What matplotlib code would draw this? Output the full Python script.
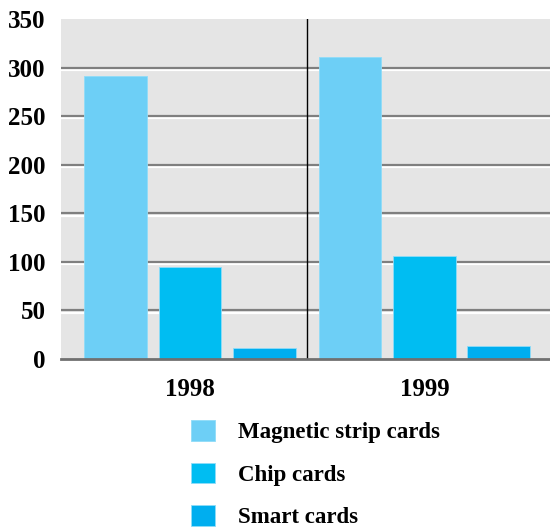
import matplotlib
matplotlib.use("Agg")
import matplotlib.pyplot as plt
import matplotlib.patheffects as pe
from matplotlib.patches import Patch

years = ['1998', '1999']
series = ['Magnetic strip cards', 'Chip cards', 'Smart cards']
magnetic = [291, 311]
chip = [95, 106]
smart = [11, 13]
colors = ['#6dcff6', '#00bdf2', '#00aeef']

plt.rcParams['font.family'] = ['Liberation Serif', 'DejaVu Serif']
plt.rcParams['font.weight'] = 'bold'

fig = plt.figure(figsize=(5.5, 5.31), dpi=100)
ax = fig.add_axes([0.111, 0.324, 0.895, 0.64])
ax.set_facecolor('#e5e5e5')

x = range(len(years))
w = 0.268
off = 0.317
for vals, dx, c in zip([magnetic, chip, smart], [-off, 0, off], colors):
    ax.bar([i + dx for i in x], vals, width=w, color=c, edgecolor='#8fdcf8',
           linewidth=0.6, zorder=3)

for v in [50, 100, 150, 200, 250, 300]:
    ax.axhline(v, color='#7f7f7f', lw=1.6, zorder=2,
               path_effects=[pe.SimpleLineShadow(offset=(0, -1.6), shadow_color='white', alpha=1),
                             pe.Normal()])
ax.axvline(0.5, color='black', lw=1, zorder=4)

ax.set_xlim(-0.55, 1.55)
ax.set_ylim(0, 350)
ax.set_yticks([0, 50, 100, 150, 200, 250, 300, 350])
ax.set_xticks(list(x))
ax.set_xticklabels(years)
ax.tick_params(length=0, labelsize=18)
ax.tick_params(axis='y', pad=11)
ax.tick_params(axis='x', pad=14)
for s in ['top', 'right', 'left']:
    ax.spines[s].set_visible(False)
ax.spines['bottom'].set_color('#707070')
ax.spines['bottom'].set_linewidth(2)
ax.spines['bottom'].set_zorder(5)

handles = [Patch(facecolor=c, edgecolor='#8fdcf8', linewidth=0.6) for c in colors]
fig.legend(handles, series, loc='upper left', bbox_to_anchor=(0.347, 0.209),
           frameon=False, fontsize=16.5, handlelength=1.05, handleheight=1.0,
           handletextpad=1.0, labelspacing=0.85, borderpad=0, borderaxespad=0)

fig.savefig('out.png', dpi=100)
